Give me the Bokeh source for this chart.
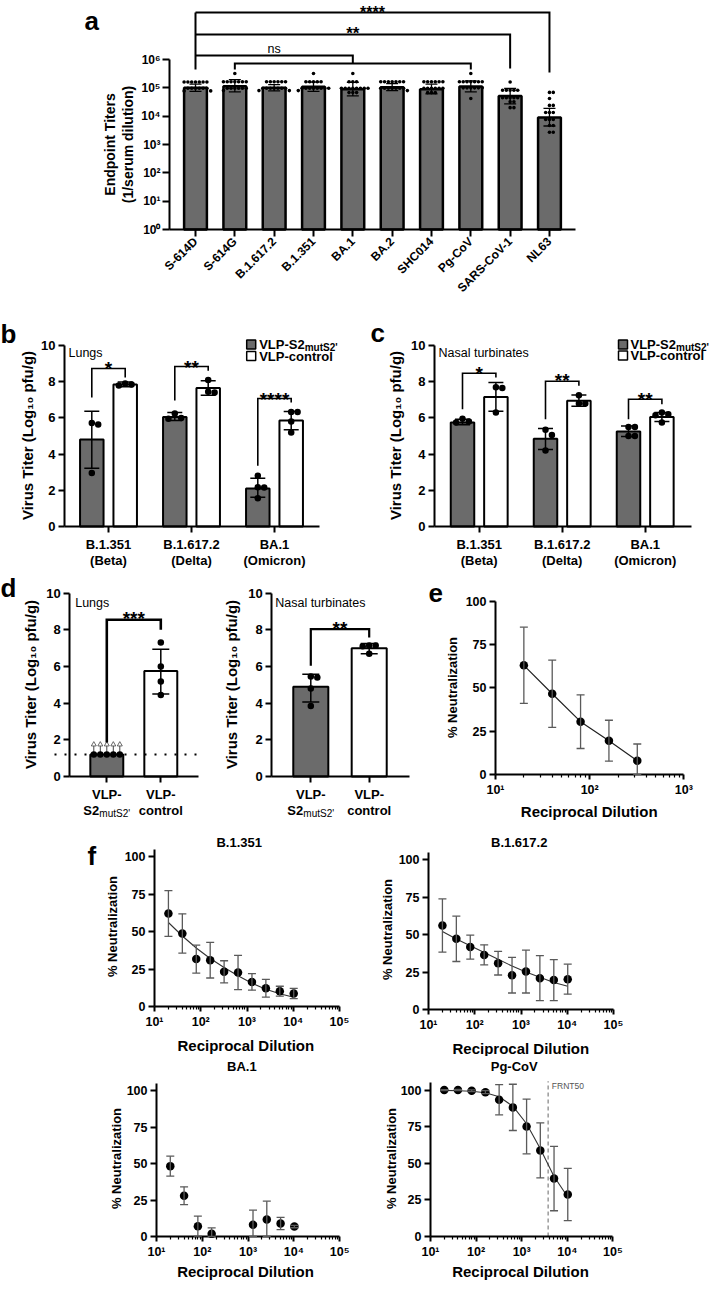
import math
from bokeh.plotting import figure
from bokeh.models import Range1d, FixedTicker, Label, Whisker, TeeHead, ColumnDataSource
from bokeh.layouts import column, row
from bokeh.embed import file_html
from bokeh.resources import INLINE

FONT = "Liberation Sans"
GRAY = "#6b6b6b"
ERR = "#5a5a5a"
SUP = {0: "\u2070", 1: "\u00b9", 2: "\u00b2", 3: "\u00b3", 4: "\u2074", 5: "\u2075", 6: "\u2076"}

# ======================= DATA =======================
# (a) endpoint titers
a_groups = ["S-614D", "S-614G", "B.1.617.2", "B.1.351", "BA.1", "BA.2", "SHC014", "Pg-CoV", "SARS-CoV-1", "NL63"]
a_bar = [100000, 115000, 100000, 109000, 89000, 105000, 89000, 112000, 52000, 9000]
a_err_lo = [75000, 72000, 78000, 75000, 52000, 80000, 62000, 72000, 27000, 4500]
a_err_hi = [135000, 195000, 130000, 160000, 155000, 140000, 135000, 175000, 95000, 19000]
a_s614d = [160000, 160000, 160000, 160000, 160000, 160000, 160000, 97000, 97000, 97000, 97000, 97000, 97000, 78000, 78000]
a_s614g = [320000, 165000, 165000, 165000, 165000, 165000, 165000, 165000, 97000, 97000, 97000, 97000, 97000, 97000, 80000]
a_b16172 = [165000, 165000, 165000, 165000, 165000, 165000, 97000, 97000, 97000, 97000, 97000, 97000, 97000, 80000, 80000]
a_b1351 = [320000, 165000, 165000, 165000, 165000, 165000, 97000, 97000, 97000, 97000, 97000, 97000, 97000, 97000, 80000]
a_ba1 = [320000, 165000, 165000, 165000, 97000, 97000, 97000, 97000, 97000, 97000, 97000, 97000, 68000, 68000, 68000]
a_ba2 = [165000, 165000, 165000, 165000, 165000, 165000, 165000, 97000, 97000, 97000, 97000, 97000, 97000, 97000, 80000]
a_shc014 = [165000, 165000, 165000, 165000, 165000, 165000, 97000, 97000, 97000, 97000, 97000, 97000, 68000, 68000, 68000]
a_pgcov = [320000, 165000, 165000, 165000, 165000, 165000, 165000, 165000, 100000, 100000, 100000, 100000, 100000, 100000, 42000]
a_sars1 = [160000, 82000, 82000, 82000, 82000, 82000, 45000, 45000, 45000, 45000, 45000, 32000, 32000, 20000, 20000]
a_nl63 = [69000, 69000, 42000, 24000, 24000, 13500, 13500, 13500, 7600, 7600, 7600, 4700, 4700, 2700, 2700]

# (b) lungs, (c) nasal turbinates
bc_variants = ["B.1.351", "B.1.617.2", "BA.1"]
bc_common = ["(Beta)", "(Delta)", "(Omicron)"]
b_vlp_mean = [4.8, 6.05, 2.1]
b_vlp_lo = [3.22, 5.85, 1.62]
b_vlp_hi = [6.37, 6.3, 2.67]
b_ctl_mean = [7.85, 7.65, 5.85]
b_ctl_lo = [7.72, 7.25, 5.35]
b_ctl_hi = [7.98, 8.05, 6.35]
b_vlp_beta = [5.72, 5.63, 2.96]
b_vlp_delta = [5.95, 6.25, 6.0]
b_vlp_omicron = [2.8, 2.17, 2.15, 1.56]
b_ctl_beta = [7.79, 7.9, 7.85]
b_ctl_delta = [8.1, 7.4, 7.45]
b_ctl_omicron = [6.33, 6.33, 5.8, 5.2]

c_vlp_mean = [5.75, 4.85, 5.25]
c_vlp_lo = [5.62, 4.25, 4.97]
c_vlp_hi = [5.92, 5.42, 5.55]
c_ctl_mean = [7.15, 6.95, 6.05]
c_ctl_lo = [6.37, 6.65, 5.8]
c_ctl_hi = [7.95, 7.27, 6.3]
c_vlp_beta = [5.8, 5.95, 5.75]
c_vlp_delta = [5.35, 5.05, 4.2]
c_vlp_omicron = [5.5, 5.5, 5.0, 5.0]
c_ctl_beta = [7.7, 7.65, 6.3]
c_ctl_delta = [7.25, 6.8, 6.8]
c_ctl_omicron = [6.3, 6.15, 6.2, 5.75]

# (d) BA.1 challenge
d_lod = 1.2
d_lung_mean = [1.2, 5.75]
d_lung_vlp = [1.2, 1.2, 1.2, 1.2, 1.2]
d_lung_ctl = [7.31, 6.0, 5.18, 4.45]
d_lung_ctl_lo = 4.5
d_lung_ctl_hi = 6.94
d_nasal_mean = [4.9, 7.0]
d_nasal_lo = [4.07, 6.7]
d_nasal_hi = [5.58, 7.25]
d_nasal_vlp = [5.45, 5.4, 4.8, 3.85]
d_nasal_ctl = [7.15, 7.1, 7.15, 6.7]

# (e) neutralization
e_dil = [20, 40, 80, 160, 320]
e_mean = [63, 46.6, 30.5, 19.5, 8]
e_sd = [22, 19.4, 15.5, 11.8, 9.6]

# (f) neutralization per variant
NAN = float("nan")
f_dil = [20, 40, 80, 160, 320, 640, 1280, 2560, 5120, 10240]
f1_mean = [62, 48.7, 31.6, 30.9, 23.1, 22.7, 16.4, 12.2, 10.2, 8.7]
f1_sd = [15.2, 13.1, 9.3, 11.9, 7.4, 11.4, 5.5, 5.9, 3.3, 3.4]
f1_fit = [56, 47, 39, 32, 26, 20.5, 15.5, 11.5, 8.5, 6.2]
f2_mean = [56, 47.1, 41.6, 36.4, 30.9, 22.9, 25.3, 20.9, 19.6, 20.2]
f2_sd = [17.7, 15.1, 8, 6.7, 7.9, 11.9, 14.3, 15, 13.7, 10]
f2_fit = [52, 47, 42.5, 38, 33.5, 29, 25, 21.5, 18, 15.5]
f3_mean = [48.2, 27.9, 7.1, 1.8, NAN, NAN, 8, 11.6, 8.9, 6.8]
f3_sd = [6.8, 6.1, 6.9, 4.1, NAN, NAN, 10, 12.6, 4.2, 0.8]
f4_mean = [100, 100, 99.5, 98.6, 93.4, 88.2, 75.2, 58.8, 39.6, 28.7]
f4_sd = [0.3, 0.4, 0.6, 1.0, 10.3, 15.8, 18.7, 18.8, 22, 17.9]
f4_fit = [99.8, 99.6, 99.2, 98.2, 95.5, 89, 77, 60, 41, 27]
f4_frnt50 = 3800


# ======================= HELPERS =======================
def style_axes(p, fs="13px"):
    for ax in p.axis:
        ax.axis_line_width = 2
        ax.axis_line_color = "black"
        ax.major_tick_line_width = 2
        ax.major_tick_line_color = "black"
        ax.major_tick_out = 6
        ax.major_tick_in = 0
        ax.minor_tick_line_width = 1.2
        ax.minor_tick_line_color = "black"
        ax.minor_tick_out = 3
        ax.minor_tick_in = 0
        ax.major_label_text_font = FONT
        ax.major_label_text_font_style = "bold"
        ax.major_label_text_font_size = fs
        ax.major_label_text_color = "black"
        ax.major_label_standoff = 3


def make_panel(box, xmap, ymap, xlog=False, ylog=False, fs="13px"):
    """Whole figure is the plotting frame; axes are pinned with fixed_location."""
    fx, fy, fw, fh = box

    def X(px):
        pr, vr, s = xmap
        return 10 ** (math.log10(vr) + (px - pr) / s) if xlog else vr + (px - pr) / s

    def Y(py):
        pr, vr, s = ymap
        return 10 ** (math.log10(vr) + (pr - py) / s) if ylog else vr + (pr - py) / s

    p = figure(width=fw, height=fh, x_range=Range1d(X(fx), X(fx + fw)), y_range=Range1d(Y(fy + fh), Y(fy)),
               x_axis_type="log" if xlog else "linear", y_axis_type="log" if ylog else "linear",
               min_border_left=0, min_border_right=0, min_border_top=0, min_border_bottom=0,
               toolbar_location=None, output_backend="svg")
    p.outline_line_color = None
    p.background_fill_color = "white"
    p.border_fill_color = "white"
    p.xgrid.visible = False
    p.ygrid.visible = False
    style_axes(p, fs)
    return p, X, Y


def lab(p, x, y, text, size, bold=True, align="center", baseline="middle", angle=0.0, color="black", xoff=0):
    p.add_layout(Label(x=x, y=y, text=text, text_font=FONT, text_font_size=f"{size}px",
                       text_font_style="bold" if bold else "normal", text_align=align,
                       text_baseline=baseline, angle=angle, text_color=color, x_offset=xoff))


def errbars(p, xs, lo, hi, head, color="black", width=1.5):
    src = ColumnDataSource(dict(x=list(xs), lo=list(lo), hi=list(hi)))
    p.add_layout(Whisker(source=src, base="x", lower="lo", upper="hi", dimension="height",
                         line_color=color, line_width=width, level="annotation",
                         lower_head=TeeHead(size=head, line_color=color, line_width=width),
                         upper_head=TeeHead(size=head, line_color=color, line_width=width)))


def swarm(ypx, d):
    order = sorted(range(len(ypx)), key=lambda i: -ypx[i])
    cands = [0.0]
    for j in range(1, 40):
        cands += [j * d, -j * d]
    placed = []
    offs = [0.0] * len(ypx)
    for i in order:
        for c in cands:
            if all((c - qx) ** 2 + (ypx[i] - qy) ** 2 >= (0.95 * d) ** 2 for qx, qy in placed):
                offs[i] = c
                placed.append((c, ypx[i]))
                break
    return offs


def vtitle(p, X, Y, px, py, size=15):
    lab(p, X(px), Y(py), "Virus Titer (Log\u2081\u2080 pfu/g)", size, angle=math.pi / 2)


def stars(p, x, Y, py_center, text, size=19):
    lab(p, x, Y(py_center + 0.58 * size), text, size, baseline="alphabetic")


# ======================= PANEL a =======================
pa, XA, YA = make_panel((8, 8, 711, 302), (203, 0, 39.33), (237, 1, 28.33), ylog=True, fs="12px")
xa = list(range(len(a_groups)))
pa.vbar(x=xa, top=a_bar, bottom=1, width=0.58, fill_color=GRAY, line_color="black", line_width=2.5)
a_points = [a_s614d, a_s614g, a_b16172, a_b1351, a_ba1, a_ba2, a_shc014, a_pgcov, a_sars1, a_nl63]
for i, pts in enumerate(a_points):
    offs = swarm([math.log10(v) * 28.33 for v in pts], 3.8)
    pa.scatter([i + o / 39.33 for o in offs], pts, size=3.6, fill_color="black", line_color=None)
errbars(pa, xa, a_err_lo, a_err_hi, 12, "black", 1.3)
a_br = [([0, 0], [77, 20]), ([0, 9, 9], [20, 20, 80]), ([0, 8, 8], [42, 42, 76]),
        ([0, 4, 4], [63, 63, 71]), ([1, 1, 7, 7], [77, 71, 71, 77])]
pa.multi_line(xs=[b[0] for b in a_br], ys=[[YA(v) for v in b[1]] for b in a_br],
              line_color="black", line_width=2, line_join="miter")
lab(pa, 4.5, YA(19.5), "****", 16, baseline="alphabetic")
lab(pa, 4.0, YA(41), "**", 17, baseline="alphabetic")
lab(pa, 2.0, YA(56.5), "ns", 12.5, bold=False, baseline="alphabetic")
lab(pa, XA(117), YA(152), "Endpoint Titers", 14, angle=math.pi / 2)
lab(pa, XA(135), YA(152), "(1/serum dilution)", 14, angle=math.pi / 2)
lab(pa, XA(92), YA(28), "a", 26, align="left", baseline="alphabetic")
pa.xaxis.ticker = FixedTicker(ticks=xa)
pa.xaxis.major_label_overrides = {i: g for i, g in enumerate(a_groups)}
pa.xaxis.major_label_orientation = math.pi / 4
pa.xaxis.major_tick_out = 7
pa.xaxis.major_label_text_font_size = "12px"
pa.xaxis.fixed_location = 1
pa.xaxis.bounds = (XA(177), XA(583))
pa.yaxis.ticker = FixedTicker(ticks=[10 ** k for k in range(7)], minor_ticks=[])
pa.yaxis.major_label_overrides = {10 ** k: "10" + SUP[k] for k in range(7)}
pa.yaxis.bounds = (1, 10 ** 6)
pa.yaxis.fixed_location = XA(177)
pa.yaxis.major_tick_out = 7
pa.yaxis.major_label_standoff = 2


# ======================= PANELS b, c =======================
def bc_panel(p, X, Y, xpx, ypx, vlp_mean, vlp_lo, vlp_hi, ctl_mean, ctl_lo, ctl_hi, vlp_pts, ctl_pts):
    n = len(vlp_mean)
    off = 16.7 / xpx
    w = 23.5 / xpx
    xv = [i - off for i in range(n)]
    xc = [i + off for i in range(n)]
    p.vbar(x=xv, top=vlp_mean, bottom=0, width=w, fill_color=GRAY, line_color="black", line_width=2)
    p.vbar(x=xc, top=ctl_mean, bottom=0, width=w, fill_color="white", line_color="black", line_width=2)
    errbars(p, xv, vlp_lo, vlp_hi, 15, "black", 1.5)
    errbars(p, xc, ctl_lo, ctl_hi, 15, "black", 1.5)
    for xs0, groups in ((xv, vlp_pts), (xc, ctl_pts)):
        for x0, pts in zip(xs0, groups):
            offs = swarm([v * ypx for v in pts], 6.4)
            p.scatter([x0 + o / xpx for o in offs], pts, size=6.5, fill_color="black", line_color=None)
    p.xaxis.ticker = FixedTicker(ticks=list(range(n)))
    p.xaxis.major_label_text_color = None
    p.xaxis.fixed_location = 0
    p.yaxis.ticker = FixedTicker(ticks=[0, 2, 4, 6, 8, 10])
    p.yaxis.bounds = (0, 10)
    for i in range(n):
        lab(p, i, Y(552), bc_variants[i], 13)
        lab(p, i, Y(568), bc_common[i], 13)
    return off


def legend(p, X, Y, sq_px, txt_px, rows_py):
    p.scatter([X(sq_px), X(sq_px)], [Y(rows_py[0]), Y(rows_py[1])], marker="square", size=9,
              fill_color=[GRAY, "white"], line_color="black", line_width=1.5)
    lab(p, X(txt_px), Y(rows_py[0]), "VLP-S2", 13, align="left")
    lab(p, X(txt_px + 45.5), Y(rows_py[0] + 3), "mutS2'", 10, align="left")
    lab(p, X(txt_px), Y(rows_py[1]), "VLP-control", 13, align="left")


def brackets(p, X, Y, off, spec, lw=1.6):
    xs, ys = [], []
    for i, yl, yt, yr, s, yc in spec:
        xs.append([i - off, i - off, i + off, i + off])
        ys.append([Y(yl), Y(yt), Y(yt), Y(yr)])
        stars(p, i, Y, yc, s)
    p.multi_line(xs=xs, ys=ys, line_color="black", line_width=lw, line_join="miter")


pb, XB, YB = make_panel((8, 310, 355, 267), (116, 0, 83), (534, 0, 18.1))
offb = bc_panel(pb, XB, YB, 83, 18.1, b_vlp_mean, b_vlp_lo, b_vlp_hi, b_ctl_mean, b_ctl_lo, b_ctl_hi,
                [b_vlp_beta, b_vlp_delta, b_vlp_omicron], [b_ctl_beta, b_ctl_delta, b_ctl_omicron])
pb.xaxis.bounds = (XB(72), XB(327))
pb.yaxis.fixed_location = XB(72)
brackets(pb, XB, YB, offb, [(0, 405, 376, 385, "*", 365), (1, 408, 374, 378.3, "**", 364),
                            (2, 473.3, 406, 410, "****", 396)])
legend(pb, XB, YB, 258.7, 266.7, (352, 363.5))
lab(pb, XB(76), YB(360), "Lungs", 12.5, bold=False, align="left", baseline="alphabetic")
lab(pb, XB(8), YB(341.5), "b", 26, align="left", baseline="alphabetic")
vtitle(pb, XB, YB, 35, 443)

pc, XC, YC = make_panel((363, 310, 356, 267), (486.7, 0, 83), (534, 0, 18.1))
offc = bc_panel(pc, XC, YC, 83, 18.1, c_vlp_mean, c_vlp_lo, c_vlp_hi, c_ctl_mean, c_ctl_lo, c_ctl_hi,
                [c_vlp_beta, c_vlp_delta, c_vlp_omicron], [c_ctl_beta, c_ctl_delta, c_ctl_omicron])
pc.xaxis.bounds = (XC(442), XC(698.5))
pc.yaxis.fixed_location = XC(442)
brackets(pc, XC, YC, offc, [(0, 416.7, 380.7, 385, "*", 370), (1, 426.7, 388.7, 393.3, "**", 377),
                            (2, 426.7, 406.7, 411.7, "**", 396)])
legend(pc, XC, YC, 630.5, 638, (352, 363))
lab(pc, XC(446), YC(360), "Nasal turbinates", 12.5, bold=False, align="left", baseline="alphabetic")
lab(pc, XC(378), YC(340), "c", 26, align="left", baseline="alphabetic")
vtitle(pc, XC, YC, 403, 443)


# ======================= PANEL d =======================
def d_axes(p, X, Y, left_px, right_px):
    p.xaxis.ticker = FixedTicker(ticks=[0, 1])
    p.xaxis.major_label_text_color = None
    p.xaxis.fixed_location = 0
    p.xaxis.bounds = (X(left_px), X(right_px))
    p.yaxis.ticker = FixedTicker(ticks=[0, 2, 4, 6, 8, 10])
    p.yaxis.bounds = (0, 10)
    p.yaxis.fixed_location = X(left_px)
    lab(p, 0, Y(801.7), "VLP-", 13)
    lab(p, 0, Y(818.3), "S2", 13, align="left", xoff=-23.5)
    lab(p, 0, Y(821), "mutS2'", 10, bold=False, align="left", xoff=-7.5)
    lab(p, 1, Y(801.7), "VLP-", 13)
    lab(p, 1, Y(818.3), "control", 13)


pd1, XD1, YD1 = make_panel((8, 577, 220, 255), (114.3, 0, 54), (784, 0, 18.33))
pd1.vbar(x=[0], top=[d_lung_mean[0]], bottom=0, width=0.61, fill_color=GRAY, line_color="black", line_width=2)
pd1.vbar(x=[1], top=[d_lung_mean[1]], bottom=0, width=0.61, fill_color="white", line_color="black", line_width=2)
pd1.line([XD1(62), XD1(206)], [d_lod, d_lod], line_color="black", line_width=2, line_dash="2 8")
offs = swarm([v * 18.33 for v in d_lung_vlp], 6.5)
xl = [o / 54 for o in offs]
pd1.segment(x0=xl, y0=d_lung_vlp, x1=xl, y1=[YD1(752)] * len(xl), line_color="#444444", line_width=1)
pd1.scatter(xl, [YD1(752)] * len(xl), marker="triangle", size=5, fill_color="white", line_color="#444444", line_width=0.8)
pd1.scatter(xl, d_lung_vlp, size=6.5, fill_color="black", line_color=None)
offs = swarm([v * 18.33 for v in d_lung_ctl], 6.5)
pd1.scatter([1 + o / 54 for o in offs], d_lung_ctl, size=6.5, fill_color="black", line_color=None)
errbars(pd1, [1], [d_lung_ctl_lo], [d_lung_ctl_hi], 17, "black", 1.5)
pd1.multi_line(xs=[[0, 0, 1, 1]], ys=[[YD1(750), YD1(627.3), YD1(627.3), YD1(637.3)]],
               line_color="black", line_width=2.6, line_join="miter")
stars(pd1, 0.5, YD1, 615, "***")
d_axes(pd1, XD1, YD1, 77.3, 206)
lab(pd1, XD1(82.7), YD1(610), "Lungs", 12.5, bold=False, align="left", baseline="alphabetic")
lab(pd1, XD1(8), YD1(595), "d", 26, align="left", baseline="alphabetic")
vtitle(pd1, XD1, YD1, 38, 692)

pd2, XD2, YD2 = make_panel((228, 577, 197, 255), (318.3, 0, 58.4), (784, 0, 18.33))
pd2.vbar(x=[0], top=[d_nasal_mean[0]], bottom=0, width=0.6, fill_color=GRAY, line_color="black", line_width=2)
pd2.vbar(x=[1], top=[d_nasal_mean[1]], bottom=0, width=0.6, fill_color="white", line_color="black", line_width=2)
errbars(pd2, [0, 1], d_nasal_lo, d_nasal_hi, 17, "black", 1.5)
for x0, pts in ((0, d_nasal_vlp), (1, d_nasal_ctl)):
    offs = swarm([v * 18.33 for v in pts], 6.5)
    pd2.scatter([x0 + o / 58.4 for o in offs], pts, size=6.5, fill_color="black", line_color=None)
pd2.multi_line(xs=[[0, 0, 1, 1]], ys=[[YD2(673.3), YD2(636.7), YD2(636.7), YD2(645)]],
               line_color="black", line_width=2.2, line_join="miter")
stars(pd2, 0.5, YD2, 625, "**")
d_axes(pd2, XD2, YD2, 279.3, 416.7)
lab(pd2, XD2(282.7), YD2(610), "Nasal turbinates", 12.5, bold=False, align="left", baseline="alphabetic")
vtitle(pd2, XD2, YD2, 238.5, 692)


# ======================= PANEL e / f =======================
def log_axes(p, top_pow, ybound):
    p.xaxis.ticker = FixedTicker(ticks=[10 ** k for k in range(1, top_pow + 1)],
                                 minor_ticks=[m * 10 ** k for k in range(1, top_pow) for m in range(2, 10)])
    p.xaxis.major_label_overrides = {10 ** k: "10" + SUP[k] for k in range(1, top_pow + 1)}
    p.xaxis.bounds = (10, 10 ** top_pow)
    p.xaxis.major_tick_out = 5
    p.xaxis.fixed_location = 0
    p.yaxis.ticker = FixedTicker(ticks=[0, 25, 50, 75, 100])
    p.yaxis.bounds = (0, ybound)
    p.yaxis.fixed_location = 10


def curve_points(p, xs, mean, sd, fit=None, connect=False):
    if fit is not None:
        p.line(xs, fit, line_color="#333333", line_width=1.1)
    if connect:
        p.line(xs, mean, line_color="#222222", line_width=1.2)
    ex, lo, hi = [], [], []
    for x, m, s in zip(xs, mean, sd):
        if m == m and s == s:
            ex.append(x)
            lo.append(max(m - s, 0))
            hi.append(m + s)
    errbars(p, ex, lo, hi, 8, ERR, 1.3)
    p.scatter(xs, mean, size=8.5, fill_color="black", line_color=None)


pe, XE, YE = make_panel((425, 577, 294, 255), (503, 10, 94.2), (782, 0, 1.733), xlog=True, fs="12.5px")
curve_points(pe, e_dil, e_mean, e_sd, connect=True)
log_axes(pe, 3, 100)
lab(pe, XE(436), YE(600), "e", 26, align="left", baseline="alphabetic")
lab(pe, XE(460), YE(695), "% Neutralization", 13, angle=math.pi / 2)
lab(pe, XE(596.7), YE(819.3), "Reciprocal Dilution", 15)

pf1, XF1, YF1 = make_panel((8, 832, 355, 232), (162, 10, 46.25), (1014, 0, 1.5), xlog=True, fs="12.5px")
curve_points(pf1, f_dil, f1_mean, f1_sd, fit=f1_fit)
log_axes(pf1, 5, 105)
lab(pf1, XF1(95), YF1(863), "f", 26, align="left", baseline="alphabetic")
lab(pf1, XF1(246.7), YF1(850), "B.1.351", 13)
lab(pf1, XF1(120), YF1(934), "% Neutralization", 13, angle=math.pi / 2)
lab(pf1, XF1(253.3), YF1(1053.3), "Reciprocal Dilution", 15)

pf2, XF2, YF2 = make_panel((363, 832, 356, 232), (436, 10, 46.25), (1017, 0, 1.5), xlog=True, fs="12.5px")
curve_points(pf2, f_dil, f2_mean, f2_sd, fit=f2_fit)
log_axes(pf2, 5, 105)
lab(pf2, XF2(526.7), YF2(850), "B.1.617.2", 13)
lab(pf2, XF2(395), YF2(937), "% Neutralization", 13, angle=math.pi / 2)
lab(pf2, XF2(528.3), YF2(1056), "Reciprocal Dilution", 15)

pf3, XF3, YF3 = make_panel((8, 1064, 355, 224), (164, 10, 45.8), (1244, 0, 1.46), xlog=True, fs="12.5px")
curve_points(pf3, f_dil, f3_mean, f3_sd)
log_axes(pf3, 5, 105)
lab(pf3, XF3(249.3), YF3(1074), "BA.1", 13)
lab(pf3, XF3(123.5), YF3(1166), "% Neutralization", 13, angle=math.pi / 2)
lab(pf3, XF3(253), YF3(1279), "Reciprocal Dilution", 15)

pf4, XF4, YF4 = make_panel((363, 1064, 356, 224), (438, 10, 45.6), (1244, 0, 1.464), xlog=True, fs="12.5px")
pf4.segment(x0=[f4_frnt50], y0=[0], x1=[f4_frnt50], y1=[106], line_color="#8a8a8a", line_width=1.3, line_dash="4 3")
curve_points(pf4, f_dil, f4_mean, f4_sd, fit=f4_fit)
log_axes(pf4, 5, 105)
lab(pf4, XF4(559.3), YF4(1093), "FRNT50", 8.5, bold=False, align="left", color="#555555")
lab(pf4, XF4(521.7), YF4(1074), "Pg-CoV", 13)
lab(pf4, XF4(398.5), YF4(1166), "% Neutralization", 13, angle=math.pi / 2)
lab(pf4, XF4(528), YF4(1279), "Reciprocal Dilution", 15)

layout = column(pa, row(pb, pc), row(pd1, pd2, pe), row(pf1, pf2), row(pf3, pf4))
open("out.html", "w", encoding="utf-8").write(file_html(layout, INLINE))
